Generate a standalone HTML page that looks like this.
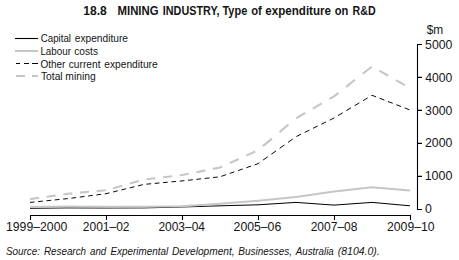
<!DOCTYPE html>
<html><head><meta charset="utf-8"><style>
html,body{margin:0;padding:0;background:#fff;width:459px;height:260px;overflow:hidden}
svg{display:block}
text{font-family:"Liberation Sans",sans-serif;fill:#141414}
</style></head><body>
<svg width="459" height="260" viewBox="0 0 459 260">
<text x="83.24" y="14.8" font-size="13" font-weight="bold" textLength="23.53" lengthAdjust="spacingAndGlyphs">18.8</text>
<text x="117.54" y="14.8" font-size="13" font-weight="bold" textLength="40.96" lengthAdjust="spacingAndGlyphs">MINING</text>
<text x="162.80" y="14.8" font-size="13" font-weight="bold" textLength="56.61" lengthAdjust="spacingAndGlyphs">INDUSTRY,</text>
<text x="222.48" y="14.8" font-size="13" font-weight="bold" textLength="24.78" lengthAdjust="spacingAndGlyphs">Type</text>
<text x="251.26" y="14.8" font-size="13" font-weight="bold" textLength="10.62" lengthAdjust="spacingAndGlyphs">of</text>
<text x="265.35" y="14.8" font-size="13" font-weight="bold" textLength="65.65" lengthAdjust="spacingAndGlyphs">expenditure</text>
<text x="334.66" y="14.8" font-size="13" font-weight="bold" textLength="13.63" lengthAdjust="spacingAndGlyphs">on</text>
<text x="352.59" y="14.8" font-size="13" font-weight="bold" textLength="23.06" lengthAdjust="spacingAndGlyphs">R&amp;D</text>
<text x="40.70" y="42.2" font-size="10.3" textLength="30.35" lengthAdjust="spacingAndGlyphs">Capital</text>
<text x="74.77" y="42.2" font-size="10.3" textLength="53.18" lengthAdjust="spacingAndGlyphs">expenditure</text>
<text x="40.39" y="55.1" font-size="10.3" textLength="30.67" lengthAdjust="spacingAndGlyphs">Labour</text>
<text x="74.27" y="55.1" font-size="10.3" textLength="23.80" lengthAdjust="spacingAndGlyphs">costs</text>
<text x="40.43" y="67.9" font-size="10.3" textLength="24.94" lengthAdjust="spacingAndGlyphs">Other</text>
<text x="68.77" y="67.9" font-size="10.3" textLength="31.71" lengthAdjust="spacingAndGlyphs">current</text>
<text x="104.27" y="67.9" font-size="10.3" textLength="53.39" lengthAdjust="spacingAndGlyphs">expenditure</text>
<text x="40.98" y="80.0" font-size="10.3" textLength="21.67" lengthAdjust="spacingAndGlyphs">Total</text>
<text x="65.32" y="80.0" font-size="10.3" textLength="30.35" lengthAdjust="spacingAndGlyphs">mining</text>
<text x="426.77" y="34.4" font-size="12.5" textLength="16.51" lengthAdjust="spacingAndGlyphs">$m</text>
<text x="425.11" y="48.6" font-size="12.2" textLength="27.27" lengthAdjust="spacingAndGlyphs">5000</text>
<text x="425.32" y="81.56" font-size="12.2" textLength="27.05" lengthAdjust="spacingAndGlyphs">4000</text>
<text x="425.13" y="114.52" font-size="12.2" textLength="27.24" lengthAdjust="spacingAndGlyphs">3000</text>
<text x="424.98" y="147.48" font-size="12.2" textLength="27.40" lengthAdjust="spacingAndGlyphs">2000</text>
<text x="424.65" y="180.44" font-size="12.2" textLength="27.74" lengthAdjust="spacingAndGlyphs">1000</text>
<text x="425.12" y="213.3" font-size="12.2" textLength="6.86" lengthAdjust="spacingAndGlyphs">0</text>
<text x="5.97" y="230.6" font-size="12.5" textLength="61.31" lengthAdjust="spacingAndGlyphs">1999–2000</text>
<text x="82.80" y="230.6" font-size="12.5" textLength="46.71" lengthAdjust="spacingAndGlyphs">2001–02</text>
<text x="158.40" y="230.6" font-size="12.5" textLength="46.55" lengthAdjust="spacingAndGlyphs">2003–04</text>
<text x="233.58" y="230.6" font-size="12.5" textLength="47.65" lengthAdjust="spacingAndGlyphs">2005–06</text>
<text x="310.70" y="230.6" font-size="12.5" textLength="46.73" lengthAdjust="spacingAndGlyphs">2007–08</text>
<text x="386.99" y="230.6" font-size="12.5" textLength="47.59" lengthAdjust="spacingAndGlyphs">2009–10</text>
<text x="5.92" y="254.8" font-size="10.5" font-style="italic" textLength="34.08" lengthAdjust="spacingAndGlyphs">Source:</text>
<text x="43.90" y="254.8" font-size="10.5" font-style="italic" textLength="42.16" lengthAdjust="spacingAndGlyphs">Research</text>
<text x="89.98" y="254.8" font-size="10.5" font-style="italic" textLength="16.26" lengthAdjust="spacingAndGlyphs">and</text>
<text x="110.50" y="254.8" font-size="10.5" font-style="italic" textLength="57.78" lengthAdjust="spacingAndGlyphs">Experimental</text>
<text x="171.99" y="254.8" font-size="10.5" font-style="italic" textLength="62.69" lengthAdjust="spacingAndGlyphs">Development,</text>
<text x="238.29" y="254.8" font-size="10.5" font-style="italic" textLength="53.66" lengthAdjust="spacingAndGlyphs">Businesses,</text>
<text x="295.78" y="254.8" font-size="10.5" font-style="italic" textLength="38.05" lengthAdjust="spacingAndGlyphs">Australia</text>
<text x="337.81" y="254.8" font-size="10.5" font-style="italic" textLength="41.98" lengthAdjust="spacingAndGlyphs">(8104.0).</text>
<line x1="15" y1="38.5" x2="38" y2="38.5" stroke="#000" stroke-width="1.1"/>
<line x1="15" y1="51" x2="38" y2="51" stroke="#c6c6c6" stroke-width="2"/>
<path d="M16,63.5 H20 M24,63.5 H29 M32,63.5 H38" stroke="#000" stroke-width="1.1"/>
<path d="M16,76 H25 M32,76 H38" stroke="#c6c6c6" stroke-width="2"/>
<path d="M422,44.5 H417.5 V209.5 H422" fill="none" stroke="#000" stroke-width="1.1"/>
<path d="M417.5,77.4 H422 M417.5,110.4 H422 M417.5,143.4 H422 M417.5,176.4 H422" stroke="#000" stroke-width="1.1"/>
<path d="M30.5,220 V215.5 H410.5 V220 M106.5,215.5 V220 M182.5,215.5 V220 M258.5,215.5 V220 M334.5,215.5 V220" fill="none" stroke="#000" stroke-width="1.1"/>
<polyline points="30,208.3 68,207.9 106,208.0 144,207.9 182,207.0 220,205.8 258,204.8 296,202.4 334,205.1 372,202.4 410,205.8" fill="none" stroke="#000" stroke-width="1"/>
<polyline points="30,207.0 68,206.6 106,206.8 144,206.8 182,206.3 220,203.8 258,200.8 296,197 334,191.6 372,187.3 410,190.6" fill="none" stroke="#c6c6c6" stroke-width="2"/>
<path d="M30.00,202.40 L34.50,201.95 M38.13,201.59 L42.83,201.12 M46.46,200.75 L51.16,200.28 M54.79,199.92 L59.49,199.45 M63.12,199.09 L67.82,198.62 M71.45,198.16 L76.15,197.55 M79.78,197.08 L84.48,196.47 M88.11,196.01 L92.81,195.40 M96.44,194.93 L101.14,194.33 M104.77,193.86 L106.00,193.70 L109.47,192.85 M113.10,191.96 L117.80,190.81 M121.43,189.92 L126.13,188.77 M129.76,187.89 L134.46,186.73 M138.09,185.85 L142.79,184.70 M146.42,184.18 L151.12,183.74 M154.75,183.41 L159.45,182.98 M163.08,182.64 L167.78,182.21 M171.41,181.88 L176.11,181.44 M179.74,181.11 L182.00,180.90 L184.44,180.64 M188.07,180.25 L192.77,179.74 M196.40,179.35 L201.10,178.84 M204.73,178.45 L209.43,177.94 M213.06,177.55 L217.76,177.04 M221.39,176.32 L226.09,174.70 M229.72,173.45 L234.42,171.83 M238.05,170.58 L242.75,168.96 M246.38,167.71 L251.08,166.09 M254.71,164.83 L258.00,163.70 L259.41,162.70 M263.04,160.12 L267.74,156.78 M271.37,154.20 L276.07,150.86 M279.70,148.28 L284.40,144.94 M288.03,142.36 L292.73,139.02 M296.36,136.52 L301.06,134.21 M304.69,132.42 L309.39,130.11 M313.02,128.32 L317.72,126.01 M321.35,124.23 L326.05,121.91 M329.68,120.13 L334.00,118.00 L334.38,117.77 M338.01,115.60 L342.71,112.80 M346.34,110.63 L351.04,107.82 M354.67,105.65 L359.37,102.84 M363.00,100.68 L367.70,97.87 M371.33,95.70 L372.00,95.30 L376.03,96.86 M379.66,98.26 L384.36,100.08 M387.99,101.49 L392.69,103.30 M396.32,104.71 L401.02,106.53 M404.65,107.93 L409.35,109.75" fill="none" stroke="#0a0a0a" stroke-width="1.0"/>
<path d="M30.10,199.09 L39.10,197.83 M46.73,196.77 L55.73,195.51 M63.36,194.45 L68.00,193.80 L72.36,193.39 M79.99,192.66 L88.99,191.81 M96.62,191.09 L105.62,190.24 M113.25,188.18 L122.25,185.67 M129.88,183.54 L138.88,181.03 M146.51,179.30 L155.51,178.21 M163.14,177.28 L172.14,176.19 M179.77,175.27 L182.00,175.00 L188.77,173.66 M196.40,172.16 L205.40,170.38 M213.03,168.88 L220.00,167.50 L222.03,166.58 M229.66,163.13 L238.66,159.05 M246.29,155.60 L255.29,151.53 M262.92,146.16 L271.92,138.58 M279.55,132.15 L288.55,124.57 M296.18,118.20 L305.18,112.99 M312.81,108.57 L321.81,103.36 M329.44,98.94 L334.00,96.30 L338.44,92.82 M346.07,86.83 L355.07,79.78 M362.70,73.79 L371.70,66.74 M379.33,70.65 L388.33,75.74 M395.96,80.06 L404.96,85.15" fill="none" stroke="#c6c6c6" stroke-width="2.1"/>
</svg>
</body></html>
